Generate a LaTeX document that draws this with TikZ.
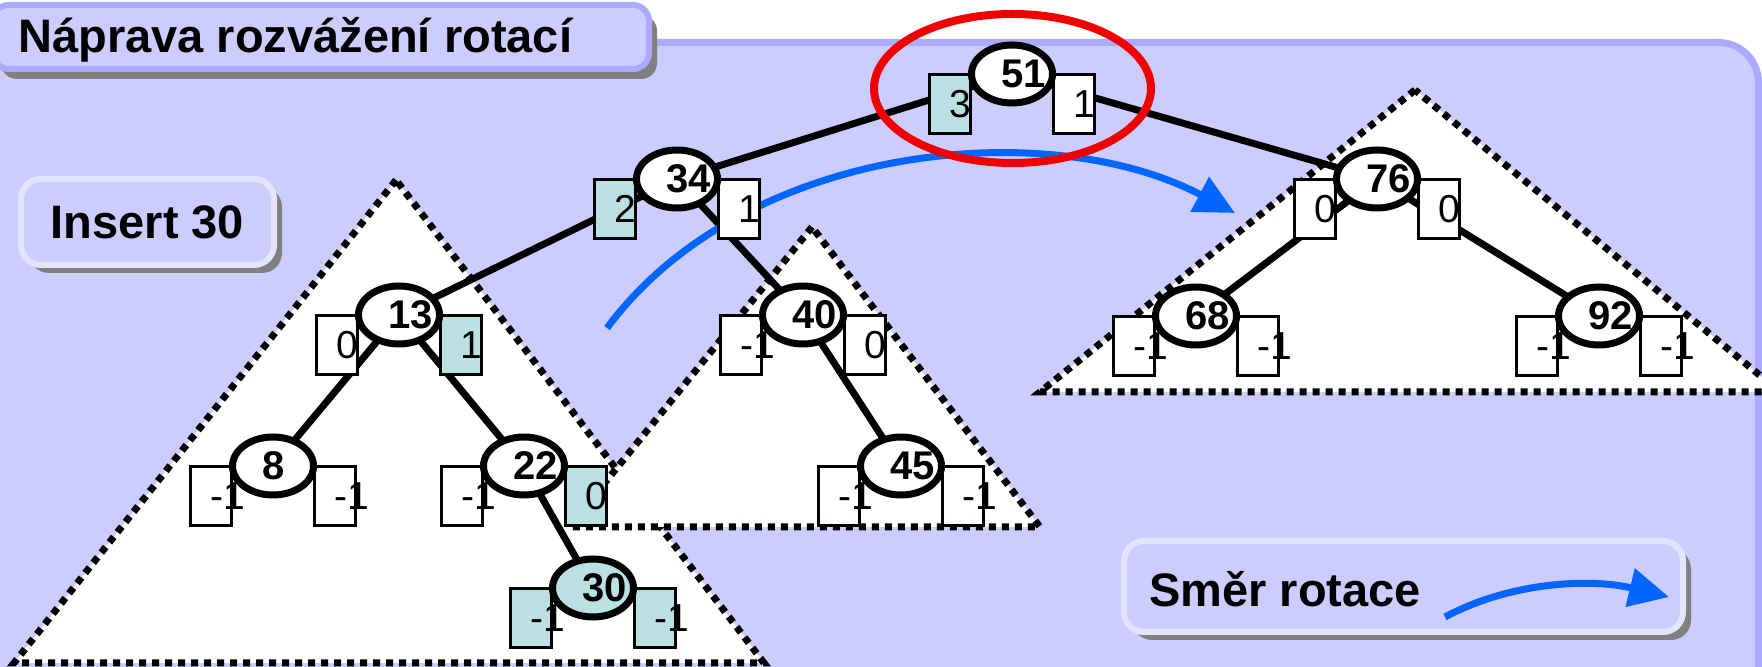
\documentclass[tikz,border=0pt]{standalone}
\usepackage{fontspec}
\setmainfont{Liberation Sans}
\usetikzlibrary{arrows.meta,shapes.geometric,shadows}
\definecolor{panelfill}{RGB}{204,204,255}
\definecolor{panelborder}{RGB}{170,170,255}
\definecolor{lightborder}{RGB}{228,228,255}
\definecolor{shadowgray}{RGB}{128,128,128}
\definecolor{tealfill}{RGB}{187,224,226}
\definecolor{rotblue}{RGB}{0,102,255}
\definecolor{markred}{RGB}{240,0,0}
\pgfdeclarelayer{background}
\pgfsetlayers{background,main}
\tikzset{
  keyell/.style={ellipse, draw=black, line width=3.5pt, minimum width=40.5pt, minimum height=29pt, inner sep=0pt},
  valbox/.style={rectangle, draw=black, line width=1.6pt, minimum width=20.5pt, minimum height=29.5pt, inner sep=0pt},
  keytext/.style={font=\fontsize{20pt}{24pt}\selectfont\bfseries, inner sep=0pt, anchor=west},
  valtext/.style={font=\fontsize{19.5pt}{23pt}\selectfont, inner sep=0pt, anchor=west},
  treeedge/.style={line width=3.5pt, draw=black},
  subtree/.style={fill=white, draw=black, line width=3.5pt, dash pattern=on 3.5pt off 3pt},
  titlebox/.style={rectangle, fill=panelfill, draw=panelborder, line width=3pt, rounded corners=8pt,
    general shadow={fill=shadowgray, shadow xshift=4pt, shadow yshift=-5pt}},
  notebox/.style={rectangle, fill=panelfill, draw=lightborder, line width=3pt, rounded corners=10pt,
    general shadow={fill=shadowgray, shadow xshift=4pt, shadow yshift=-4pt}},
  bigtext/.style={font=\fontsize{23.5pt}{28pt}\selectfont\bfseries, inner sep=0pt},
  rotarrow/.style={draw=rotblue, line width=3.5pt, -{Triangle[length=20pt,width=19pt]}},
}
\newcommand{\avlnode}[9]{%
  \node[valbox, fill=#7] (#1l) at (#2-62,#3+30) {};
  \node[valbox, fill=#8] (#1r) at (#2+62,#3+30) {};
  \node[keyell, fill=#9] (#1) at (#2,#3) {};
  \node[keytext] (#1k) at ([xshift=-5.5pt]#1.center) {#4};
  \node[valtext] (#1lt) at ([xshift=-0.5pt]#1l.center) {#5};
  \node[valtext] (#1rt) at ([xshift=-0.5pt]#1r.center) {#6};
}
\begin{document}
\begin{tikzpicture}[x=0.5pt, y=-0.5pt]
\useasboundingbox (0,0) rectangle (1762,667);
\begin{pgfonlayer}{background}
  \fill[white] (0,0) rectangle (1762,667);
  \path[fill=panelfill, draw=panelborder, line width=3.5pt, rounded corners=20pt] (-40,42.5) rectangle (1758.5,760);
  \draw[subtree] (396,180) -- (14,663) -- (764,663) -- cycle;
  \draw[subtree] (812,227) -- (569,527) -- (1040,527) -- cycle;
  \draw[subtree] (1415,90) -- (1040,392) -- (1780,392) -- cycle;
\end{pgfonlayer}

% title and notes
\node[titlebox, minimum width=328pt, minimum height=32pt] (titlebg) at (321,37) {};
\node[bigtext, anchor=base west] (title) at (18,53) {Náprava rozvážení rotací};
\node[notebox, bigtext, minimum width=126.5pt, minimum height=43pt] (insert) at (147.5,222) {Insert 30};
\node[notebox, minimum width=279.5pt, minimum height=45.5pt] (legendbox) at (1403.5,586.5) {};
\node[bigtext, anchor=base west] (legendtext) at (1149,607) {Směr rotace};

% tree nodes
\avlnode{n51}{1012}{74}{51}{3}{1}{tealfill}{white}{white}
\avlnode{n34}{677}{179}{34}{2}{1}{tealfill}{white}{white}
\avlnode{n13}{399}{315}{13}{0}{1}{white}{tealfill}{white}
\avlnode{n40}{803}{315}{40}{-1}{0}{white}{white}{white}
\avlnode{n8}{273}{466}{8}{-1}{-1}{white}{white}{white}
\avlnode{n22}{524}{466}{22}{-1}{0}{white}{tealfill}{white}
\avlnode{n45}{901}{466}{45}{-1}{-1}{white}{white}{white}
\avlnode{n30}{593}{588}{30}{-1}{-1}{tealfill}{tealfill}{tealfill}
\avlnode{n76}{1377}{179}{76}{0}{0}{white}{white}{white}
\avlnode{n68}{1196}{316}{68}{-1}{-1}{white}{white}{white}
\avlnode{n92}{1599}{316}{92}{-1}{-1}{white}{white}{white}

\coordinate (rotstart) at (607,328);
\coordinate (rotend) at (1235,213);
\begin{pgfonlayer}{background}
  \draw[treeedge] (n51.center) -- (n34.center);
  \draw[treeedge] (n51.center) -- (n76.center);
  \draw[treeedge] (n34.center) -- (n13.center);
  \draw[treeedge] (n34.center) -- (n40.center);
  \draw[treeedge] (n13.center) -- (n8.center);
  \draw[treeedge] (n13.center) -- (n22.center);
  \draw[treeedge] (n22.center) -- (n30.center);
  \draw[treeedge] (n40.center) -- (n45.center);
  \draw[treeedge] (n76.center) -- (n68.center);
  \draw[treeedge] (n76.center) -- (n92.center);
  \draw[rotarrow] (rotstart) .. controls (745,142) and (1050,115) .. (rotend);
\end{pgfonlayer}

% legend arrow
\coordinate (legstart) at (1445,617);
\coordinate (legend) at (1669,597);
\draw[rotarrow] (legstart) .. controls (1510,582) and (1590,578) .. (legend);

% red highlight
\node[ellipse, draw=markred, line width=4pt, minimum width=138.5pt, minimum height=74.5pt, inner sep=0pt] (focus) at (1012.5,88.5) {};
\end{tikzpicture}
\end{document}
